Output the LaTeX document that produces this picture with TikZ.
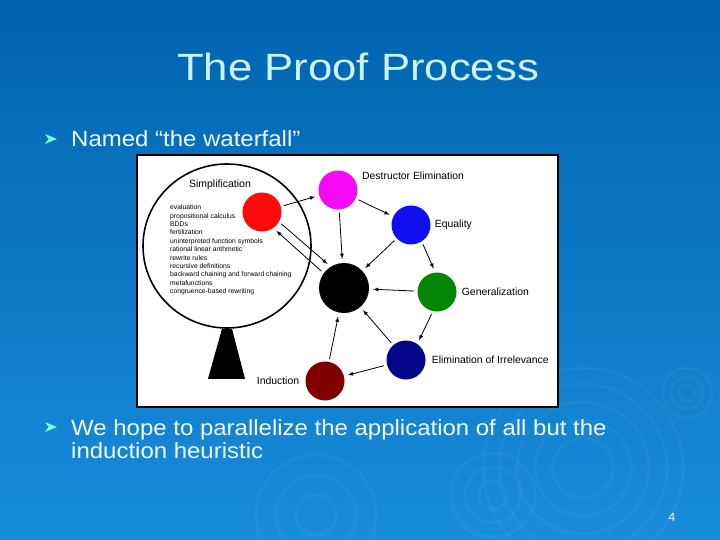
\documentclass[tikz,border=0pt]{standalone}
\usepackage{fontspec}
\setmainfont{Liberation Sans}
\usetikzlibrary{positioning,shapes.geometric}
\definecolor{slidetop}{RGB}{0,100,175}
\definecolor{slidebot}{RGB}{25,140,220}
\definecolor{titlecol}{RGB}{205,243,255}
\definecolor{bodycol}{RGB}{240,248,255}
\definecolor{bulletcol}{RGB}{110,255,210}
\definecolor{simplcol}{RGB}{255,10,10}
\definecolor{destrcol}{RGB}{245,10,245}
\definecolor{equalcol}{RGB}{15,15,240}
\definecolor{genercol}{RGB}{5,135,5}
\definecolor{irrelcol}{RGB}{5,5,140}
\definecolor{induccol}{RGB}{128,0,0}
\newcommand{\widetext}[1]{\scalebox{1.15}[1]{#1}}
\newcommand{\bodywide}[1]{\scalebox{1.09}[1]{#1}}

\begin{document}
\begin{tikzpicture}[
		x=1pt,y=-1pt,
		ball/.style={circle,minimum size=39pt,inner sep=0pt},
		lbl/.style={inner sep=0pt,font=\fontsize{10.4}{12}\selectfont},
		arr/.style={->,>=latex,line width=0.8pt,shorten >=4pt,shorten <=3pt},
		ripple/.style={draw=white,opacity=0.04,line width=3pt},
		bodytext/.style={text=bodycol,inner sep=0pt,font=\fontsize{22}{23}\selectfont}
		]
		\useasboundingbox (0,0) rectangle (720,540);
		\shade[top color=slidetop,bottom color=slidebot] (0,0) rectangle (720,540);
		\foreach \r in {30,48,66,84,100}
			\draw[ripple] (583,468) circle (\r pt);
		\foreach \r in {14,28,42}
			\draw[ripple] (493,495) circle (\r pt);
		\foreach \r in {8,16,25}
			\draw[ripple] (687,393) circle (\r pt);
		\foreach \r in {20,40,60}
			\draw[ripple] (316,515) circle (\r pt);

		\node[text=titlecol,font=\fontsize{38}{44}\selectfont] (title) at (358,67) {\widetext{The Proof Process}};

		\fill[bulletcol] (45,134) -- (57,139) -- (45,144) -- (48.5,139) -- cycle;
		\node[bodytext,anchor=base west] (named) at (71,147) {\bodywide{Named “the waterfall”}};
		\fill[bulletcol] (45,422) -- (57,427) -- (45,432) -- (48.5,427) -- cycle;
		\node[bodytext,anchor=base west,align=left] (hope) at (71,458) {\bodywide{We hope to parallelize the application of all but the}\\\bodywide{induction heuristic}};
		\node[text=bodycol,font=\fontsize{12}{14}\selectfont] (pagenum) at (672,517) {4};

		\node[draw=black,line width=2pt,fill=white,minimum width=421pt,minimum height=252pt,inner sep=0pt] (frame) at (347.5,281) {};
		\node[ellipse,draw,line width=1.6pt,minimum width=168pt,minimum height=164pt,inner sep=0pt] (glass) at (227,246) {};
		\fill ([xshift=-5pt]glass.south) -- ([xshift=5pt]glass.south) -- ++(13,50) -- ++(-37,0) -- cycle;
		\node[font=\fontsize{10.5}{12}\selectfont,anchor=base] (simpltitle) at (220,188) {Simplification};
		\node[font=\fontsize{6.8}{8.4}\selectfont,align=left,anchor=north west,inner sep=0pt] (rules) at (170,204.5) {evaluation\\propositional calculus\\BDDs\\fertilization\\uninterpreted function symbols\\rational linear arithmetic\\rewrite rules\\recursive definitions\\backward chaining and forward chaining\\metafunctions\\congruence-based rewriting};

		\node[ball,fill=simplcol] (simpl) at (262,212) {};
		\node[ball,fill=destrcol] (destr) at (338,190) {};
		\node[ball,fill=equalcol] (equal) at (411,225) {};
		\node[ball,fill=black,minimum size=50pt] (core) at (344,288) {};
		\node[ball,fill=genercol] (gener) at (437,292) {};
		\node[ball,fill=irrelcol] (irrel) at (406,360) {};
		\node[ball,fill=induccol] (induc) at (325,381) {};

		\node[lbl,anchor=west] (destrlbl) at (362,176) {Destructor Elimination};
		\node[lbl,right=4pt of equal] (equallbl) {Equality};
		\node[lbl,right=5pt of gener] (generlbl) {Generalization};
		\node[lbl,right=6pt of irrel] (irrellbl) {Elimination of Irrelevance};
		\node[lbl,left=6pt of induc] (induclbl) {Induction};

		\draw[arr] (simpl) -- (destr);
		\draw[arr] (destr) -- (core);
		\draw[arr] (destr) -- (equal);
		\draw[arr] (equal) -- (core);
		\draw[arr] (equal.-57) -- (gener.95);
		\draw[arr] (gener) -- (core);
		\draw[arr] (gener.-102) -- (irrel.55);
		\draw[arr] (irrel) -- (core);
		\draw[arr] (irrel) -- (induc);
		\draw[arr] (induc) -- (core);
		\draw[arr] (simpl.-30) -- (core.122);
		\draw[arr] (core.144) -- (simpl.-55);
	\end{tikzpicture}
\end{document}
